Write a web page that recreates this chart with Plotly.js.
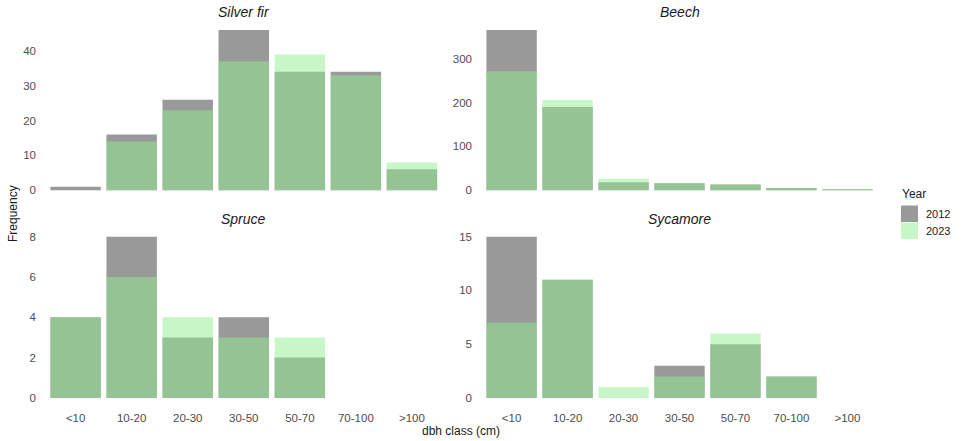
<!DOCTYPE html>
<html>
<head>
<meta charset="utf-8">
<script src="https://cdn.plot.ly/plotly-3.0.1.min.js"></script>
<style>html,body{margin:0;padding:0;background:#fff;}#chart{width:961px;height:441px;}</style>
</head>
<body>
<div id="chart"></div>
<script>
const categories = ['<10', '10-20', '20-30', '30-50', '50-70', '70-100', '>100'];
const years = ['2012', '2023'];
const speciesNames = ['Silver fir', 'Beech', 'Spruce', 'Sycamore'];

const silverFir2012 = [1, 16, 26, 46, 34, 34, 6];
const silverFir2023 = [0, 14, 23, 37, 39, 33, 8];
const beech2012 = [366, 190, 18, 16, 13, 5, 2];
const beech2023 = [272, 206, 26, 16, 13, 5, 2];
const spruce2012 = [4, 8, 3, 4, 2, 0, 0];
const spruce2023 = [4, 6, 4, 3, 3, 0, 0];
const sycamore2012 = [15, 11, 0, 3, 5, 2, 0];
const sycamore2023 = [7, 11, 1, 2, 6, 2, 0];

const yTicks = {
  'Silver fir': [0, 10, 20, 30, 40],
  'Beech': [0, 100, 200, 300],
  'Spruce': [0, 2, 4, 6, 8],
  'Sycamore': [0, 5, 10, 15]
};

const seriesBySpecies = [
  [silverFir2012, silverFir2023],
  [beech2012, beech2023],
  [spruce2012, spruce2023],
  [sycamore2012, sycamore2023]
];

const colors = {'2012': 'rgba(51,51,51,0.5)', '2023': 'rgba(144,238,144,0.5)'};
const FONT = 'Liberation Sans, Arial, sans-serif';
const TICKCOL = '#4d4d4d';
const TEXTCOL = '#1a1a1a';

const traces = [];
seriesBySpecies.forEach((pair, i) => {
  const suffix = i === 0 ? '' : String(i + 1);
  pair.forEach((vals, j) => {
    traces.push({
      type: 'bar',
      x: categories,
      y: vals,
      name: years[j],
      showlegend: false,
      xaxis: 'x' + suffix,
      yaxis: 'y' + suffix,
      marker: {color: colors[years[j]], line: {width: 0}},
      hoverinfo: 'x+y+name'
    });
  });
});

// plot area in pixels: left 42, right 881, top 22, bottom 406
const L = 42, R = 80, T = 22, B = 35, W = 961, H = 441;
const PW = W - L - R, PH = H - T - B;
const px = v => (v - L) / PW;
const py = v => (H - B - v) / PH;

const xDomL = [0, 0.481];
const xDomR = [0.5197, 1];
const yDomT = [0.541, 1];
const yDomB = [0, 0.462];

function xax(domain, anchor, showLabels) {
  return {
    domain: domain, anchor: anchor, type: 'category',
    categoryorder: 'array', categoryarray: categories,
    range: [-0.6, 6.6], showgrid: false, zeroline: false, showline: false,
    ticks: '', showticklabels: showLabels, ticklabelstandoff: 3,
    tickfont: {family: FONT, size: 11.5, color: TICKCOL}, fixedrange: true
  };
}
function yax(domain, anchor, vals, sp) {
  const mx = Math.max(...vals[0], ...vals[1]);
  const pad = mx * 0.05;
  return {
    domain: domain, anchor: anchor,
    range: [-pad, mx + pad], showgrid: false, zeroline: false, showline: false,
    ticks: '', tickvals: yTicks[sp], ticktext: yTicks[sp].map(String),
    ticklabelstandoff: 5,
    tickfont: {family: FONT, size: 11.5, color: TICKCOL}, fixedrange: true
  };
}

const annotations = [];
const titlePos = [
  [(xDomL[0] + xDomL[1]) / 2, py(12)],
  [(xDomR[0] + xDomR[1]) / 2, py(12)],
  [(xDomL[0] + xDomL[1]) / 2, py(219)],
  [(xDomR[0] + xDomR[1]) / 2, py(219)]
];
speciesNames.forEach((s, i) => {
  annotations.push({
    text: '<i>' + s + '</i>', xref: 'paper', yref: 'paper',
    x: titlePos[i][0], y: titlePos[i][1], xanchor: 'center', yanchor: 'middle',
    showarrow: false, font: {family: FONT, size: 14, color: TEXTCOL}
  });
});
annotations.push({
  text: 'Frequency', xref: 'paper', yref: 'paper', x: px(13), y: py(214),
  xanchor: 'center', yanchor: 'middle', textangle: -90, showarrow: false,
  font: {family: FONT, size: 12, color: TEXTCOL}
});
annotations.push({
  text: 'dbh class (cm)', xref: 'paper', yref: 'paper', x: px(461), y: py(431),
  xanchor: 'center', yanchor: 'middle', showarrow: false,
  font: {family: FONT, size: 12, color: TEXTCOL}
});

// legend (drawn as key boxes + labels)
annotations.push({
  text: 'Year', xref: 'paper', yref: 'paper', x: px(900), y: py(194),
  xanchor: 'left', yanchor: 'middle', showarrow: false,
  font: {family: FONT, size: 12, color: TEXTCOL}
});
const shapes = [];
years.forEach((yr, j) => {
  const top = 205.5 + j * 17;
  shapes.push({
    type: 'rect', xref: 'paper', yref: 'paper',
    x0: px(901), x1: px(918), y0: py(top + 16.5), y1: py(top),
    fillcolor: colors[yr], line: {width: 0}
  });
  annotations.push({
    text: yr, xref: 'paper', yref: 'paper', x: px(924), y: py(top + 8.5),
    xanchor: 'left', yanchor: 'middle', showarrow: false,
    font: {family: FONT, size: 11, color: TEXTCOL}
  });
});

const layout = {
  width: W, height: H,
  margin: {l: L, r: R, t: T, b: B, autoexpand: false},
  paper_bgcolor: '#ffffff', plot_bgcolor: '#ffffff',
  barmode: 'overlay', bargap: 0.1,
  font: {family: FONT, color: TEXTCOL},
  xaxis: xax(xDomL, 'y', false),
  yaxis: yax(yDomT, 'x', seriesBySpecies[0], 'Silver fir'),
  xaxis2: xax(xDomR, 'y2', false),
  yaxis2: yax(yDomT, 'x2', seriesBySpecies[1], 'Beech'),
  xaxis3: xax(xDomL, 'y3', true),
  yaxis3: yax(yDomB, 'x3', seriesBySpecies[2], 'Spruce'),
  xaxis4: xax(xDomR, 'y4', true),
  yaxis4: yax(yDomB, 'x4', seriesBySpecies[3], 'Sycamore'),
  annotations: annotations,
  shapes: shapes,
  showlegend: false
};

Plotly.newPlot('chart', traces, layout, {displayModeBar: false, staticPlot: true});
</script>
</body>
</html>
